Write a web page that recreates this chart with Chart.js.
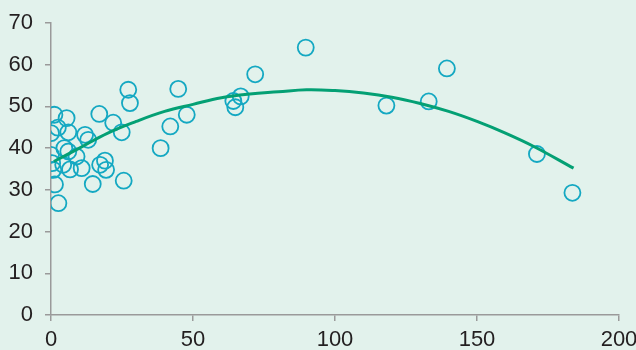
<!DOCTYPE html>
<html>
<head>
<meta charset="utf-8">
<script src="https://cdn.jsdelivr.net/npm/chart.js@4"></script>
<style>
  html, body { margin: 0; padding: 0; background: #e2f2ec; }
  #wrap { width: 636px; height: 350px; }
</style>
</head>
<body>
<div id="wrap"><canvas id="chart"></canvas></div>
<script>
// scatter points
const pointX = [1.2, 5.5, 2.4, 0, 6.1, 0, 0.4, 0.8, 1.4, 2.6,
                4.7, 6.1, 9.0, 4.3, 6.7, 10.8, 12.0, 13.1, 17.0, 21.9,
                24.9, 27.2, 27.8, 17.3, 19.0, 19.4, 14.7, 25.6, 38.6, 42.0,
                44.8, 47.8, 89.7, 71.9, 66.8, 64.2, 64.9, 118.1, 133.0, 139.4,
                171.1, 183.6];
const pointY = [48.0, 47.2, 44.9, 43.6, 43.8, 38.4, 36.4, 34.8, 31.3, 26.8,
                40.0, 39.2, 38.0, 36.0, 34.9, 35.2, 43.2, 42.0, 48.2, 46.1,
                43.8, 54.0, 50.8, 36.0, 37.0, 34.8, 31.4, 32.2, 40.0, 45.2,
                54.2, 48.0, 64.1, 57.7, 52.4, 51.3, 49.8, 50.2, 51.2, 59.1,
                38.6, 29.3];

// trend curve
const curveX = [1, 10, 20, 30, 40, 50, 60, 70, 80, 90, 100, 110, 120, 130, 140, 150, 160, 170, 184];
const curveY = [36.8, 40.0, 43.6, 46.4, 48.8, 50.5, 52.1, 53.0, 53.5, 54.0, 53.8, 53.2, 52.2, 50.7, 48.8, 46.4, 43.6, 40.4, 35.2];

const xTicks = [0, 50, 100, 150, 200];
const yTicks = [0, 10, 20, 30, 40, 50, 60, 70];

const axisGray = '#9a9a9a';
const tickFont = { family: "'Liberation Sans Narrow', 'Liberation Sans', sans-serif", size: 22 };

const scatterData = pointX.map((x, i) => ({ x: x, y: pointY[i] }));
const curveData = curveX.map((x, i) => ({ x: x, y: curveY[i] }));

new Chart(document.getElementById('chart'), {
    type: 'scatter',
    data: {
        datasets: [
            {
                type: 'line',
                data: curveData,
                borderColor: '#04a074',
                borderWidth: 3,
                pointRadius: 0,
                tension: 0.4,
                fill: false,
                order: 0
            },
            {
                data: scatterData,
                borderColor: '#14a8c2',
                backgroundColor: 'rgba(0,0,0,0)',
                borderWidth: 1.8,
                pointRadius: 8,
                pointHoverRadius: 8,
                order: 1
            }
        ]
    },
    options: {
        responsive: true,
        maintainAspectRatio: false,
        animation: false,
        layout: { padding: { top: 23, right: 17, left: 0, bottom: 0 } },
        plugins: { legend: { display: false }, tooltip: { enabled: false } },
        scales: {
            x: {
                type: 'linear',
                min: 0,
                max: 200,
                afterBuildTicks: axis => { axis.ticks = xTicks.map(v => ({ value: v })); },
                afterFit: axis => {
                    axis.height = 35;
                    axis.paddingLeft = 0;
                    axis.paddingRight = 0;
                },
                grid: { drawOnChartArea: false, drawTicks: true, tickLength: 6, color: axisGray, lineWidth: 1.5 },
                border: { color: axisGray, width: 1.5 },
                ticks: { color: '#231f20', font: tickFont, padding: 6, maxRotation: 0 }
            },
            y: {
                min: 0,
                max: 70,
                afterBuildTicks: axis => { axis.ticks = yTicks.map(v => ({ value: v })); },
                afterFit: axis => {
                    axis.width = 51;
                    axis.paddingTop = 0;
                    axis.paddingBottom = 0;
                },
                grid: { drawOnChartArea: false, drawTicks: true, tickLength: 6, color: axisGray, lineWidth: 1.5 },
                border: { color: axisGray, width: 1.5 },
                ticks: { color: '#231f20', font: tickFont, padding: 12 }
            }
        }
    }
});
</script>
</body>
</html>
